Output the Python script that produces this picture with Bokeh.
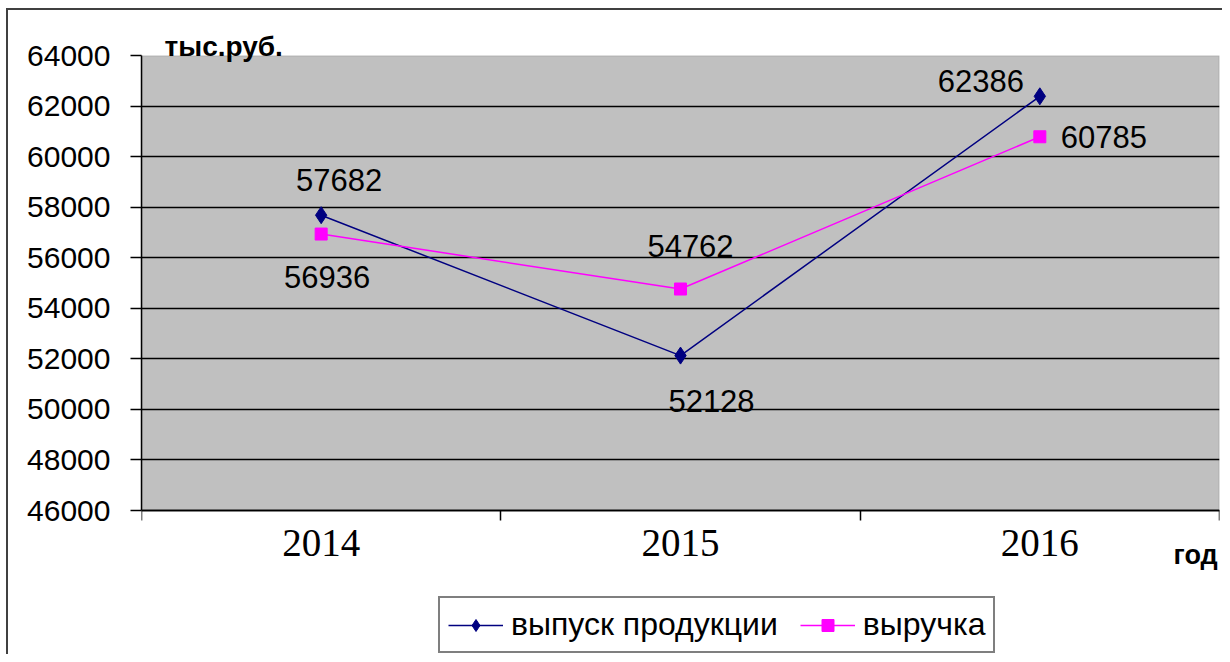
from bokeh.plotting import figure
from bokeh.models import (Range1d, FixedTicker, ColumnDataSource, Legend, LegendItem, Label,
                          LinearAxis, BoxAnnotation)
from bokeh.core.properties import value
from bokeh.embed import file_html
from bokeh.resources import INLINE

# ---- data ----
years = ["2014", "2015", "2016"]
output_vals = [57682, 52128, 62386]      # выпуск продукции
revenue_vals = [56936, 54762, 60785]     # выручка
y_ticks = [46000, 48000, 50000, 52000, 54000, 56000, 58000, 60000, 62000, 64000]
series_names = ["выпуск продукции", "выручка"]
y_unit = "тыс.руб."
x_unit = "год"

# ---- layout geometry (pixels) ----
W, H = 1222, 654
plot_left, plot_right, plot_top, plot_bottom = 141, 1219, 55, 510

x_pos = [i + 0.5 for i in range(len(years))]
bounds = [float(i) for i in range(len(years) + 1)]
y_lo, y_hi = y_ticks[0], y_ticks[-1]
units_per_px = (y_hi - y_lo) / (plot_bottom - plot_top)
frame_y_min = y_lo - (H - plot_bottom) * units_per_px   # frame extends to canvas bottom

p = figure(width=W, height=H, output_backend="svg", toolbar_location=None,
           x_range=Range1d(0, len(years)), y_range=Range1d(frame_y_min, y_hi),
           x_axis_location=None,
           min_border_left=plot_left, min_border_right=W - plot_right,
           min_border_top=plot_top, min_border_bottom=0)

p.background_fill_color = "white"
p.border_fill_color = None
p.outline_line_color = None
# outer chart border (left and top edges visible in the window)
p.styles = {"background": "linear-gradient(#404040,#404040) 6px 8px / 2px 100% no-repeat, "
                          "linear-gradient(#404040,#404040) 6px 8px / 100% 2px no-repeat, white"}

# grey plot area
p.add_layout(BoxAnnotation(left=0, right=len(years), bottom=y_lo, top=y_hi,
                           fill_color="#C0C0C0", fill_alpha=1,
                           line_color="#808080", line_width=2, level="image"))

# grid
p.xgrid.visible = False
p.ygrid.ticker = FixedTicker(ticks=y_ticks)
p.ygrid.grid_line_color = "black"
p.ygrid.grid_line_width = 1.5

# y axis
p.yaxis.ticker = FixedTicker(ticks=y_ticks)
p.yaxis.bounds = (y_lo, y_hi)
p.yaxis.axis_line_color = "black"
p.yaxis.axis_line_width = 1.5
p.yaxis.major_tick_out = 11
p.yaxis.major_tick_in = 0
p.yaxis.major_tick_line_width = 1.5
p.yaxis.minor_tick_line_color = None
p.yaxis.major_label_standoff = 20
p.yaxis.major_label_text_font = "Liberation Sans"
p.yaxis.major_label_text_font_size = "30px"
p.yaxis.major_label_text_color = "black"

# x axis, pinned at the bottom of the plot area
xaxis = LinearAxis(fixed_location=y_lo,
                   ticker=FixedTicker(ticks=x_pos, minor_ticks=bounds),
                   major_label_overrides={x: y for x, y in zip(x_pos, years)})
xaxis.axis_line_color = "black"
xaxis.axis_line_width = 1.5
xaxis.major_tick_out = 0
xaxis.major_tick_in = 0
xaxis.minor_tick_out = 10
xaxis.minor_tick_in = 0
xaxis.minor_tick_line_color = "black"
xaxis.minor_tick_line_width = 1.5
xaxis.major_label_standoff = 9
xaxis.major_label_text_font = "Liberation Serif"
xaxis.major_label_text_font_size = "39px"
xaxis.major_label_text_color = "black"
p.add_layout(xaxis, "below")

# series
navy = "#000080"
magenta = "#FF00FF"
l1 = p.line(x_pos, output_vals, line_color=navy, line_width=1.5)
m1 = p.scatter(x_pos, output_vals, marker="diamond", size=17, color=navy)
l2 = p.line(x_pos, revenue_vals, line_color=magenta, line_width=1.5)
m2 = p.scatter(x_pos, revenue_vals, marker="square", size=12, color=magenta)

# data labels
out_dx = [18, 31, -59]
out_dy = [-35, 45, -15]
rev_dx = [6, 10, 64]
rev_dy = [43, -43, 0]
lab_src = ColumnDataSource(dict(
    x=x_pos + x_pos,
    y=output_vals + revenue_vals,
    t=[str(v) for v in output_vals + revenue_vals],
    dx=out_dx + rev_dx,
    dy=out_dy + rev_dy,
))
p.text(x="x", y="y", text="t", x_offset="dx", y_offset="dy", source=lab_src,
       text_align="center", text_baseline="middle",
       text_font=value("Liberation Sans"), text_font_size="31px", text_color="black")

# unit titles (canvas pixels)
p.add_layout(Label(x=164, y=46, x_units="canvas", y_units="canvas", text=y_unit,
                   text_baseline="alphabetic", text_font="Liberation Sans",
                   text_font_style="bold", text_font_size="28px",
                   text_color="black"), "above")
p.add_layout(Label(x=1173, y=554, x_units="canvas", y_units="canvas", text=x_unit,
                   text_baseline="alphabetic", text_font="Liberation Sans",
                   text_font_style="bold", text_font_size="27px",
                   text_color="black"))

legend = Legend(items=[LegendItem(label=series_names[0], renderers=[l1, m1]),
                       LegendItem(label=series_names[1], renderers=[l2, m2])],
                orientation="horizontal", location=(297, 1))
legend.border_line_color = "black"
legend.border_line_width = 2
legend.background_fill_color = "white"
legend.background_fill_alpha = 1
legend.label_text_font = "Liberation Sans"
legend.label_text_font_size = "32px"
legend.label_text_color = "black"
legend.glyph_width = 55
legend.glyph_height = 30
legend.label_standoff = 8
legend.spacing = 22
legend.padding = 8
legend.margin = 0
p.add_layout(legend)

open("out.html", "w").write(file_html(p, INLINE))
